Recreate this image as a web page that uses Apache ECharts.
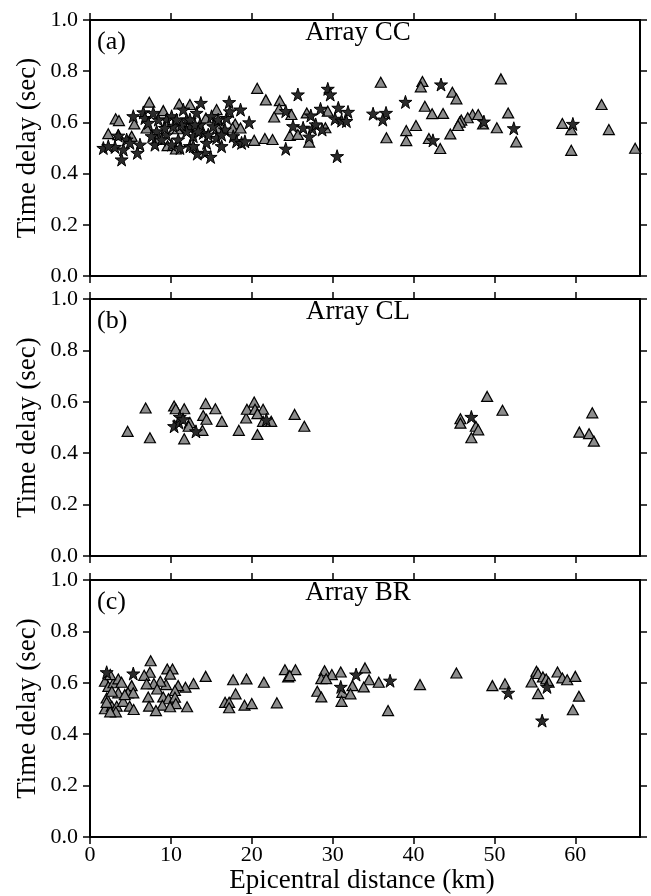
<!DOCTYPE html>
<html><head><meta charset="utf-8">
<script src="https://cdn.jsdelivr.net/npm/echarts@6/dist/echarts.min.js"></script>
<style>html,body{margin:0;padding:0;background:#fff}#c{width:651px;height:896px}</style>
</head><body><div id="c"></div>
<script>
// ---- data: [epicentral distance (km), time delay (s)] ----
const ccTriangles = [[7.33,0.679],[3.17,0.614],[3.58,0.607],[5.48,0.594],[2.26,0.556],[3.5,0.552],[11.04,0.672],[9.06,0.646],[10.83,0.575],[9.59,0.509],[10.62,0.496],[14.33,0.617],[16.18,0.587],[15.85,0.578],[17.95,0.594],[17.62,0.578],[18.61,0.578],[20.3,0.53],[21.62,0.537],[22.57,0.533],[20.67,0.733],[21.74,0.688],[23.47,0.685],[23.39,0.653],[22.77,0.621],[8.24,0.533],[7.0,0.578],[12.35,0.67],[15.65,0.65],[5.15,0.546],
  [24.9,0.631],[26.8,0.637],[24.7,0.549],[25.7,0.553],[27.1,0.523],[29.4,0.644],[29.1,0.579],
  [35.95,0.757],[41.1,0.76],[40.9,0.739],[44.8,0.718],[45.3,0.692],[41.4,0.663],[42.3,0.634],[43.65,0.635],[47.3,0.631],[48.0,0.631],[46.7,0.618],[45.9,0.609],[45.7,0.601],[45.5,0.588],[40.3,0.588],[39.1,0.568],[39.1,0.529],[36.65,0.54],[41.9,0.537],[44.55,0.555],[43.3,0.498],
  [50.8,0.77],[48.6,0.594],[51.7,0.637],[50.3,0.579],[52.7,0.524],[58.4,0.596],[59.5,0.572],[59.5,0.491],[63.25,0.67],[64.15,0.572],[67.4,0.499]];
const ccStars = [[1.65,0.5],[3.09,0.504],[3.91,0.455],[4.53,0.533],[3.5,0.548],[5.35,0.624],[6.59,0.639],[6.79,0.617],[6.18,0.513],[5.85,0.481],[7.2,0.598],[8.24,0.565],[8.03,0.513],[9.47,0.611],[10.09,0.624],[10.29,0.585],[10.91,0.533],[11.53,0.65],[11.94,0.611],[12.35,0.578],[12.77,0.546],[13.18,0.637],[13.59,0.591],[14.0,0.559],[14.41,0.52],[15.03,0.624],[15.24,0.585],[15.65,0.539],[16.27,0.507],[16.68,0.572],[16.88,0.617],[17.29,0.643],[17.71,0.546],[18.12,0.526],[18.74,0.52],[19.15,0.526],[14.21,0.481],[14.91,0.465],[13.26,0.478],[12.35,0.507],[11.12,0.5],[10.09,0.513],[9.47,0.552],[8.85,0.533],[7.62,0.546],[8.44,0.611],[7.82,0.637],[13.71,0.676],[17.21,0.679],[18.61,0.65],[19.68,0.6],
  [12.35,0.611],[12.97,0.591],[13.38,0.565],[11.94,0.565],[11.32,0.591],[12.77,0.507],[14.62,0.552],[10.7,0.611],[9.26,0.578],[16.27,0.552],[15.85,0.611],[4.94,0.52],[2.26,0.507],[4.12,0.494],
  [25.7,0.709],[29.4,0.731],[29.7,0.709],[24.2,0.644],[28.5,0.653],[30.7,0.657],[31.9,0.641],[30.3,0.614],[31.1,0.607],[31.7,0.605],[27.3,0.627],[25.1,0.585],[26.35,0.579],[27.5,0.576],[27.9,0.592],[28.7,0.572],[27.1,0.544],[24.2,0.497],[30.55,0.468],[35.0,0.634],[36.6,0.637],[36.2,0.611],[42.4,0.53],[43.4,0.748],[39.0,0.68],
  [48.7,0.603],[52.4,0.577],[59.7,0.594]];
const clTriangles = [[4.65,0.485],[6.88,0.576],[7.41,0.46],[10.4,0.584],[10.6,0.573],[11.65,0.573],[11.65,0.456],[12.35,0.519],[12.2,0.505],[14.0,0.547],[14.4,0.532],[13.9,0.489],[14.3,0.593],[15.5,0.573],[16.3,0.524],[18.4,0.489],[19.3,0.537],[19.4,0.571],[20.3,0.599],[20.4,0.571],[21.4,0.571],[20.7,0.554],[20.7,0.473],[21.4,0.524],[22.4,0.524],[25.3,0.551],[26.5,0.505],
  [49.1,0.621],[51.0,0.567],[45.8,0.534],[45.8,0.517],[47.7,0.505],[48.0,0.491],[47.15,0.46],[62.1,0.557],[60.5,0.482],[61.7,0.476],[62.3,0.447]];
const clStars = [[10.4,0.505],[11.0,0.519],[11.1,0.541],[11.5,0.532],[13.1,0.485],[21.8,0.53],[47.15,0.541]];
const brTriangles = [[7.5,0.686],[9.55,0.654],[10.2,0.654],[9.9,0.634],[7.4,0.641],[6.7,0.629],[14.3,0.625],[17.7,0.612],[19.35,0.615],[21.5,0.602],[24.1,0.651],[24.5,0.623],[18.0,0.557],[16.7,0.524],[17.2,0.524],[17.2,0.503],[19.1,0.513],[20.0,0.519],[23.1,0.522],
  [12.8,0.597],[11.8,0.583],[10.9,0.589],[9.4,0.593],[8.7,0.606],[7.9,0.597],[7.0,0.596],[10.5,0.57],[8.3,0.576],[7.2,0.545],[9.05,0.545],[9.7,0.538],[10.5,0.544],[10.6,0.519],[8.95,0.513],[9.9,0.507],[7.3,0.509],[8.15,0.492],[12.0,0.507],
  [1.85,0.606],[2.27,0.586],[2.9,0.6],[3.5,0.615],[3.9,0.602],[2.5,0.632],[2.06,0.541],[1.85,0.499],[2.7,0.509],[3.3,0.509],[3.2,0.487],[2.5,0.487],[4.1,0.528],[4.9,0.509],[5.4,0.496],[5.15,0.589],[4.7,0.561],[5.35,0.561],[3.5,0.561],[2.7,0.567],[4.3,0.554],[2.06,0.524],
  [25.4,0.651],[24.7,0.628],[29.0,0.647],[29.9,0.632],[31.0,0.642],[28.6,0.616],[29.2,0.616],[34.0,0.658],[34.5,0.612],[35.7,0.602],[33.85,0.584],[32.45,0.589],[28.1,0.567],[28.6,0.545],[31.2,0.563],[32.2,0.557],[31.1,0.528],[36.85,0.492],[40.8,0.593],[45.3,0.638],
  [49.75,0.589],[51.3,0.596],[55.2,0.645],[55.4,0.636],[54.6,0.603],[56.0,0.623],[56.4,0.615],[56.7,0.602],[57.8,0.642],[58.4,0.619],[59.0,0.612],[60.0,0.625],[55.4,0.558],[60.45,0.548],[59.7,0.495]];
const brStars = [[2.06,0.641],[5.35,0.636],[32.9,0.632],[31.0,0.584],[37.1,0.608],[51.7,0.561],[56.5,0.584],[55.9,0.453]];
const panelLabels = ['(a)','(b)','(c)'];
const arrayNames = ['Array CC','Array CL','Array BR'];
const xTickValues = [0,10,20,30,40,50,60];
const xMax = 68;
const yTitle = 'Time delay (sec)';
const xTitle = 'Epicentral distance (km)';

const FONT = '"Liberation Serif", "DejaVu Serif", serif';
const STAR = 'path://M50,0 L61.2,34.5 L97.6,34.5 L68.2,55.9 L79.4,90.5 L50,69.1 L20.6,90.5 L31.8,55.9 L2.4,34.5 L38.8,34.5 Z';
const tops = [20, 299, 580];
const heights = [256, 257, 257];
const panels = [[ccTriangles, ccStars],[clTriangles, clStars],[brTriangles, brStars]];

const grid = [], xAxis = [], yAxis = [], series = [], graphic = [];
const axisLine = {show:true, onZero:false, lineStyle:{color:'#000', width:2}};
const tick = {show:true, inside:false, length:7, lineStyle:{color:'#000', width:1.5}};
panels.forEach((p, i) => {
  grid.push({left:90, width:550, top:tops[i], height:heights[i], containLabel:false});
  const isLast = i === 2;
  xAxis.push({gridIndex:i, type:'value', position:'bottom', min:0, max:xMax, interval:10,
    axisLine, axisTick:Object.assign({customValues:xTickValues}, tick), splitLine:{show:false},
    axisLabel:{show:isLast, customValues:xTickValues, color:'#000', fontFamily:FONT, fontSize:22, margin:7}});
  xAxis.push({gridIndex:i, type:'value', position:'top', min:0, max:xMax, interval:10,
    axisLine, axisTick:Object.assign({customValues:xTickValues}, tick), splitLine:{show:false}, axisLabel:{show:false}});
  yAxis.push({gridIndex:i, type:'value', position:'left', min:0, max:1, interval:0.2,
    axisLine, axisTick:tick, splitLine:{show:false},
    axisLabel:{color:'#000', fontFamily:FONT, fontSize:22, margin:12, formatter:v=>v.toFixed(1)}});
  yAxis.push({gridIndex:i, type:'value', position:'right', min:0, max:1, interval:0.2,
    axisLine, axisTick:tick, splitLine:{show:false}, axisLabel:{show:false}});
  series.push({type:'scatter', xAxisIndex:2*i, yAxisIndex:2*i, data:p[0], symbol:'triangle', symbolSize:[11,10],
    itemStyle:{color:'#8c8c8c', borderColor:'#000', borderWidth:1.2, opacity:1}, silent:true});
  series.push({type:'scatter', xAxisIndex:2*i, yAxisIndex:2*i, data:p[1], symbol:STAR, symbolSize:13,
    itemStyle:{color:'#2b2b2b', borderColor:'#000', borderWidth:1, opacity:1}, silent:true});
  graphic.push({type:'text', left:97, top:tops[i]+9, style:{text:panelLabels[i], font:'26px '+FONT, fill:'#000'}});
  graphic.push({type:'text', x:358, y:tops[i]+13, style:{text:arrayNames[i], font:'27px '+FONT, fill:'#000', align:'center', verticalAlign:'middle'}});
  graphic.push({type:'text', x:28, y:tops[i]+heights[i]/2, rotation:Math.PI/2,
    style:{text:yTitle, font:'27px '+FONT, fill:'#000', align:'center', verticalAlign:'middle'}});
});
graphic.push({type:'text', x:362, y:881, style:{text:xTitle, font:'27px '+FONT, fill:'#000', align:'center', verticalAlign:'middle'}});

const chart = echarts.init(document.getElementById('c'), null, {renderer:'canvas'});
chart.setOption({animation:false, backgroundColor:'#fff', grid, xAxis, yAxis, series, graphic});
</script></body></html>
